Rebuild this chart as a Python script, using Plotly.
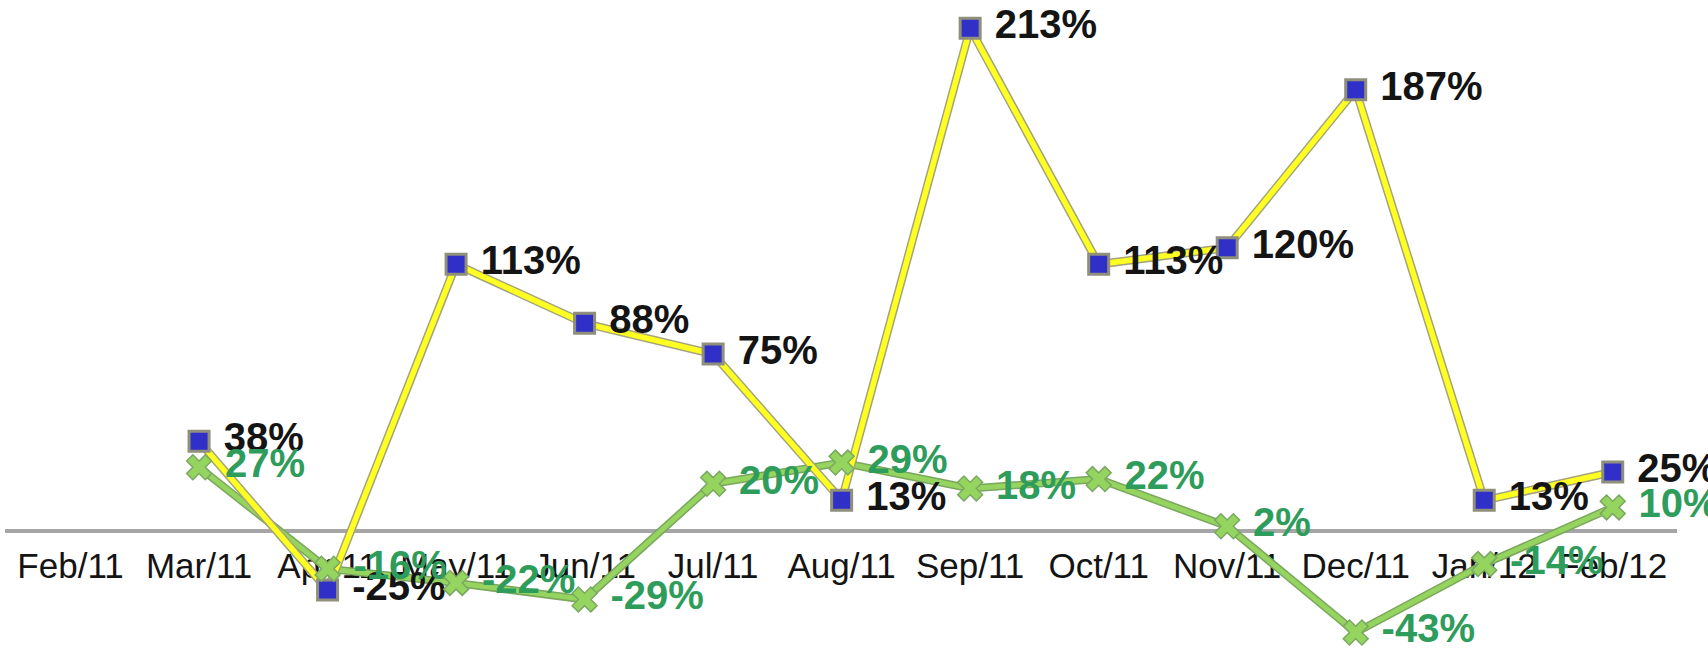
import plotly.graph_objects as go

categories = ["Feb/11", "Mar/11", "Apr/11", "May/11", "Jun/11", "Jul/11", "Aug/11",
              "Sep/11", "Oct/11", "Nov/11", "Dec/11", "Jan/12", "Feb/12"]
yellow_values = [None, 38, -25, 113, 88, 75, 13, 213, 113, 120, 187, 13, 25]
green_values = [None, 27, -16, -22, -29, 20, 29, 18, 22, 2, -43, -14, 10]

W, H = 1708, 651
zero_px = 531
px_per_unit = 2.36
y_top = zero_px / px_per_unit
y_bot = -(H - zero_px) / px_per_unit

def labels(vals):
    return ["" if v is None else f" {v}%" for v in vals]

FONT = "Liberation Sans, Arial, sans-serif"

fig = go.Figure()

# line outlines + lines
fig.add_trace(go.Scatter(x=categories, y=green_values, mode="lines",
                         line=dict(color="#7aa65e", width=8), hoverinfo="skip", showlegend=False))
fig.add_trace(go.Scatter(x=categories, y=green_values, mode="lines",
                         line=dict(color="#95d45e", width=5), hoverinfo="skip", showlegend=False))
fig.add_trace(go.Scatter(x=categories, y=yellow_values, mode="lines",
                         line=dict(color="#a4a47c", width=8.5), hoverinfo="skip", showlegend=False))
fig.add_trace(go.Scatter(x=categories, y=yellow_values, mode="lines",
                         line=dict(color="#ffff22", width=5.5), hoverinfo="skip", showlegend=False))

# markers + labels
fig.add_trace(go.Scatter(x=categories, y=yellow_values, mode="markers+text",
                         marker=dict(symbol="square", size=20, color="#3030c8",
                                     line=dict(color="#8f8f7c", width=3)),
                         text=labels(yellow_values), textposition="middle right",
                         textfont=dict(family=FONT, size=40, color="#141414", weight="bold"),
                         cliponaxis=False, showlegend=False))
fig.add_trace(go.Scatter(x=categories, y=green_values, mode="markers+text",
                         marker=dict(symbol="x", size=22, color="#95d45e",
                                     line=dict(color="#7aa862", width=1.5)),
                         text=labels(green_values), textposition="middle right",
                         textfont=dict(family=FONT, size=40, color="#2e9c5a", weight="bold"),
                         cliponaxis=False, showlegend=False))

fig.update_layout(
    width=W, height=H,
    margin=dict(l=0, r=0, t=0, b=0),
    paper_bgcolor="white", plot_bgcolor="white",
    xaxis=dict(type="category", categoryorder="array", categoryarray=categories,
               tickmode="array", tickvals=categories, ticktext=categories,
               range=[-0.51, 12.5], domain=[5 / W, 1677 / W],
               anchor="free", position=(H - zero_px) / H,
               showline=True, linecolor="#a6a6a6", linewidth=4,
               showgrid=False, zeroline=False, ticks="", tickangle=0,
               ticklabelstandoff=3, layer="below traces",
               tickfont=dict(family=FONT, size=35, color="#141414")),
    yaxis=dict(range=[y_bot, y_top], domain=[0, 1], visible=False, showgrid=False,
               zeroline=False),
)

fig.write_html("out.html", config={"displayModeBar": False},
               post_script="document.body.style.margin='0';document.body.style.overflow='hidden';")
